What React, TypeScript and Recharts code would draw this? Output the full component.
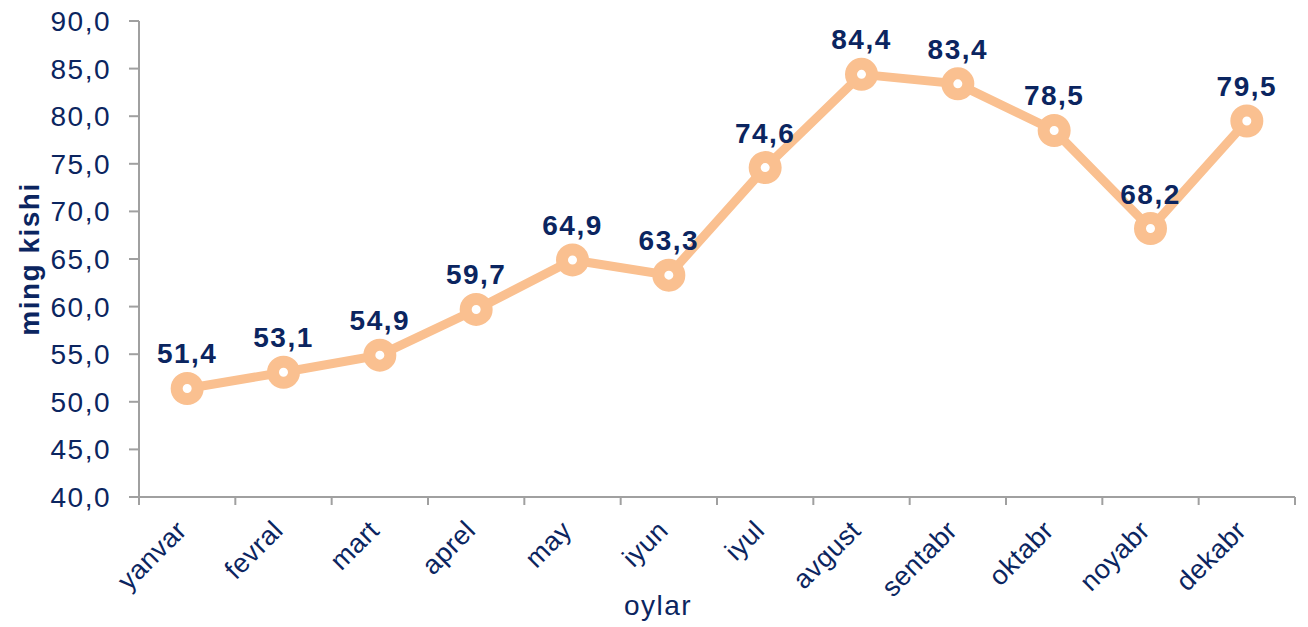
import { LineChart, Line, XAxis, YAxis, LabelList, Label } from 'recharts'

const months = ['yanvar', 'fevral', 'mart', 'aprel', 'may', 'iyun', 'iyul', 'avgust', 'sentabr', 'oktabr', 'noyabr', 'dekabr']
const values = [51.4, 53.1, 54.9, 59.7, 64.9, 63.3, 74.6, 84.4, 83.4, 78.5, 68.2, 79.5]
const yTicks = [40, 45, 50, 55, 60, 65, 70, 75, 80, 85, 90]

const data = months.map((m, i) => ({ month: m, value: values[i] }))

const W = 1308
const H = 627
const M = { top: 21, right: 13, left: 39, bottom: 0 }
const Y_W = 100
const band = (W - M.left - M.right - Y_W) / months.length

const navy = '#0b2560'
const peach = '#fac090'
const grey = '#a0a0a0'
const font = '"Liberation Sans", Arial, sans-serif'

const fmt = (v: number) => v.toFixed(1).replace('.', ',')

function MonthTick({ x, y, payload, index }: any) {
  const tx = x + 1
  const ty = y + 35
  return (
    <g>
      <line x1={x - band / 2} x2={x - band / 2} y1={y} y2={y + 8} stroke={grey} strokeWidth={2} />
      {index === months.length - 1 && (
        <line x1={x + band / 2} x2={x + band / 2} y1={y} y2={y + 8} stroke={grey} strokeWidth={2} />
      )}
      <text
        x={tx}
        y={ty}
        textAnchor="end"
        transform={`rotate(-45, ${tx}, ${ty})`}
        fill={navy}
        fontSize={27}
        letterSpacing={0.5}
        fontFamily={font}
      >
        {payload.value}
      </text>
    </g>
  )
}

export default function App() {
  return (
    <div style={{ position: 'absolute', left: 0, top: 0, width: W, height: H, background: '#fff' }}>
      <LineChart width={W} height={H} data={data} margin={M}>
        <XAxis
          dataKey="month"
          height={130}
          tickSize={0}
          tickMargin={0}
          tick={<MonthTick />}
          interval={0}
          padding={{ left: band / 2, right: band / 2 }}
          axisLine={{ stroke: grey, strokeWidth: 2 }}
        >
          <Label
            content={() => (
              <text x={658} y={615} textAnchor="middle" fill={navy} fontSize={28} letterSpacing={1.5} fontFamily={font}>
                oylar
              </text>
            )}
          />
        </XAxis>
        <YAxis
          width={Y_W}
          domain={[40, 90]}
          ticks={yTicks}
          tickFormatter={fmt}
          tickSize={10}
          tickMargin={18}
          axisLine={{ stroke: grey, strokeWidth: 2 }}
          tickLine={{ stroke: grey, strokeWidth: 2 }}
          tick={{ fill: navy, fontSize: 28, fontFamily: font, letterSpacing: 1.5 }}
        >
          <Label
            content={({ viewBox }: any) => {
              const cx = 29
              const cy = viewBox.y + viewBox.height / 2
              return (
                <text
                  x={cx}
                  y={cy}
                  textAnchor="middle"
                  dominantBaseline="central"
                  transform={`rotate(-90, ${cx}, ${cy})`}
                  fill={navy}
                  fontSize={28}
                  fontWeight="bold"
                  letterSpacing={1.5}
                  fontFamily={font}
                >
                  ming kishi
                </text>
              )
            }}
          />
        </YAxis>
        <Line
          type="linear"
          dataKey="value"
          stroke={peach}
          strokeWidth={9}
          dot={{ r: 10.5, strokeWidth: 12, fill: '#fff', stroke: peach }}
          activeDot={false}
          isAnimationActive={false}
        >
          <LabelList
            dataKey="value"
            position="top"
            offset={25}
            formatter={(v: any) => fmt(Number(v))}
            fill={navy}
            fontSize={28}
            fontWeight="bold"
            fontFamily={font}
            letterSpacing={1.5}
          />
        </Line>
      </LineChart>
    </div>
  )
}
